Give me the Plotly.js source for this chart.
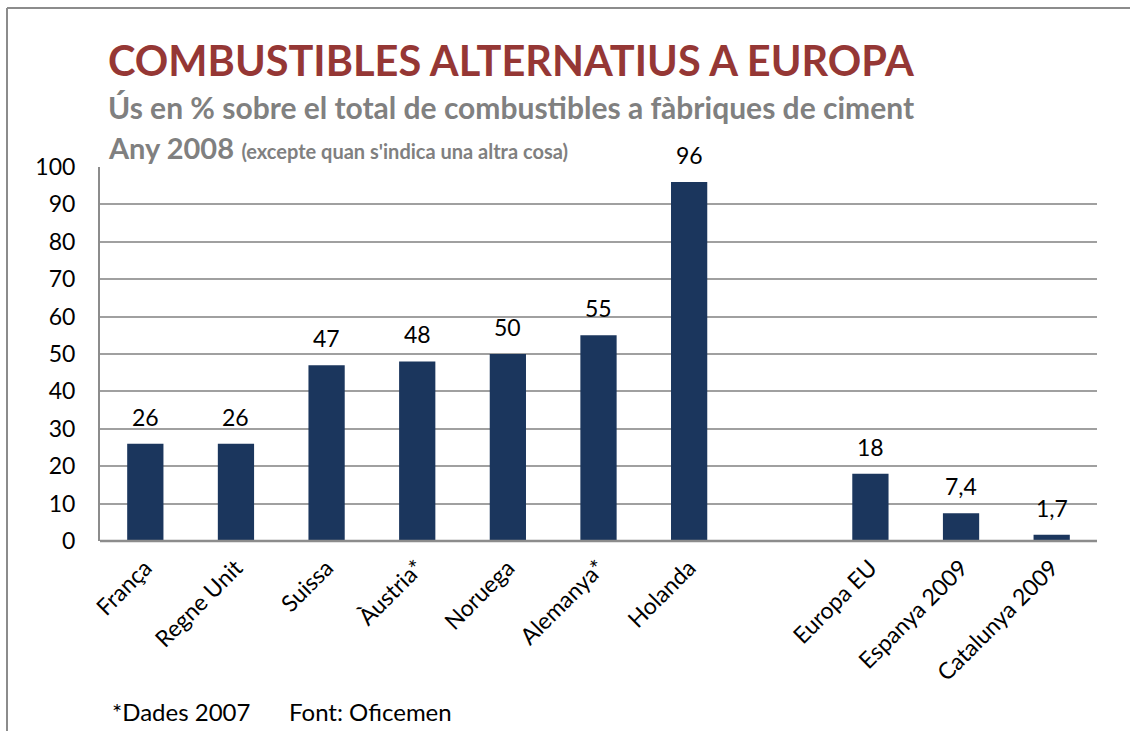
<!DOCTYPE html>
<html>
<head>
<meta charset="utf-8">
<script src="https://cdn.plot.ly/plotly-3.0.1.min.js"></script>
<style>html,body{margin:0;padding:0;background:#fff;}#chart{width:1130px;height:731px;}</style>
</head>
<body>
<div id="chart"></div>
<script>
const categories = ["França","Regne Unit","Suissa","Àustria*","Noruega","Alemanya*","Holanda"," ","Europa EU","Espanya 2009","Catalunya 2009"];
const values = [26,26,47,48,50,55,96,null,18,7.4,1.7];
const yTicks = [0,10,20,30,40,50,60,70,80,90,100];

const W = 1130, H = 731, L = 100, R = 33, T = 167, B = 190;
const pw = W - L - R, ph = H - T - B;
const px = x => (x - L) / pw;
const py = y => (H - B - y) / ph;

const FONT = 'Lato, sans-serif';

const trace = {
  type: 'bar',
  x: categories,
  y: values,
  marker: {color: '#1b365d'},
  hoverinfo: 'skip'
};

const valueLabels = [];
categories.forEach((c, i) => {
  if (values[i] === null) return;
  valueLabels.push({
    xref: 'x', yref: 'y', x: c, y: values[i],
    text: String(values[i]).replace('.', ','),
    showarrow: false, xanchor: 'center', yanchor: 'middle', yshift: 27,
    font: {family: FONT, size: 23, color: '#000'}
  });
});

const layout = {
  width: W, height: H,
  margin: {l: L, r: R, t: T, b: B},
  paper_bgcolor: '#fff', plot_bgcolor: '#fff',
  showlegend: false,
  bargap: 0.6,
  font: {family: FONT, color: '#000'},
  xaxis: {
    type: 'category',
    tickangle: -45,
    tickfont: {size: 23, color: '#000'},
    ticklabelstandoff: 8,
    showgrid: false,
    showline: false,
    ticks: '',
    zeroline: false,
    fixedrange: true
  },
  yaxis: {
    range: [0, 100],
    tickvals: yTicks,
    tickfont: {size: 23, color: '#000'},
    ticklabelstandoff: 18,
    showgrid: true,
    gridcolor: '#a0a0a0',
    gridwidth: 2,
    showline: true,
    linecolor: '#8c8c8c',
    linewidth: 2,
    zeroline: false,
    ticks: '',
    fixedrange: true
  },
  shapes: [
    {type: 'line', xref: 'paper', yref: 'paper', x0: 0, x1: 1, y0: 0, y1: 0, line: {color: '#8c8c8c', width: 2.5}},
    {type: 'line', xref: 'paper', yref: 'paper', x0: px(7), x1: px(1130), y0: py(8), y1: py(8), line: {color: '#8c8c8c', width: 2}},
    {type: 'line', xref: 'paper', yref: 'paper', x0: px(7), x1: px(7), y0: py(8), y1: py(735), line: {color: '#8c8c8c', width: 2}}
  ],
  annotations: [
    {xref: 'paper', yref: 'paper', x: px(106), y: py(60), xanchor: 'left', yanchor: 'middle', showarrow: false,
     text: '<b>COMBUSTIBLES ALTERNATIUS A EUROPA</b>', font: {family: FONT, size: 41.5, color: '#953735'}},
    {xref: 'paper', yref: 'paper', x: px(106), y: py(107), xanchor: 'left', yanchor: 'middle', showarrow: false,
     text: '<b>Ús en % sobre el total de combustibles a fàbriques de ciment</b>', font: {family: FONT, size: 30, color: '#808080'}},
    {xref: 'paper', yref: 'paper', x: px(106), y: py(147), xanchor: 'left', yanchor: 'middle', showarrow: false,
     text: '<b>Any 2008</b> <b><span style="font-size:20px">(excepte quan s\'indica una altra cosa)</span></b>', font: {family: FONT, size: 29, color: '#808080'}},
    {xref: 'paper', yref: 'paper', x: px(110), y: py(711), xanchor: 'left', yanchor: 'middle', showarrow: false,
     text: '*Dades 2007', font: {family: FONT, size: 24, color: '#000'}},
    {xref: 'paper', yref: 'paper', x: px(287), y: py(711), xanchor: 'left', yanchor: 'middle', showarrow: false,
     text: 'Font: Oficemen', font: {family: FONT, size: 24, color: '#000'}}
  ].concat(valueLabels)
};

Plotly.newPlot('chart', [trace], layout, {displayModeBar: false, staticPlot: true});
</script>
</body>
</html>
